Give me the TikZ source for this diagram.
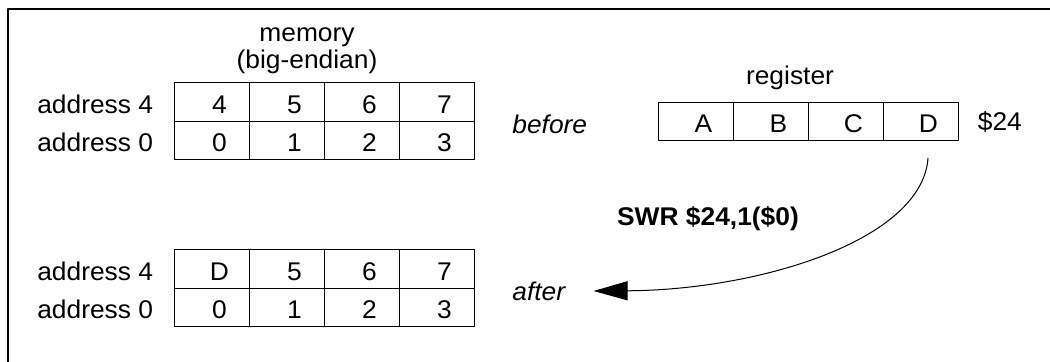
\documentclass[tikz,border=0pt]{standalone}
\usepackage{fontspec}
\setmainfont{Liberation Sans}[FakeStretch=1.03]
\usetikzlibrary{arrows.meta,positioning}

\begin{document}
\begin{tikzpicture}[line cap=round,line join=round,x=0.5pt,y=-0.5pt,
		font=\fontsize{12.8pt}{15pt}\selectfont,
		cell/.style={draw,line width=0.5pt,minimum width=37.5pt,minimum height=19.25pt,inner sep=0pt,
			text height=11pt,text depth=0pt,execute at begin node={\hspace*{8pt}}},
		lbl/.style={inner sep=0pt},
		addr/.style={inner sep=0pt,text height=11pt,text depth=0pt},
		swr/.style={-{Triangle[length=17pt,width=9.5pt]},line width=0.5pt}]
	\useasboundingbox (0,0) rectangle (1050,362);
	\draw [line width=0.8pt] (8,362) -- (8,9) -- (1050,9);
	%% memory before
	\foreach \v [count=\i] in {4,5,6,7}
		\node[cell] (ba\i) at (136.5+75*\i,102.25) {\v};
	\foreach \v [count=\i] in {0,1,2,3}
		\node[cell] (bb\i) at (136.5+75*\i,140.75) {\v};
	\node[lbl,align=center] (memlbl) at (307,51) {memory\\[-1.5pt](big-endian)};
	\node[addr,left=10pt of ba1] (ba0) {address 4};
	\node[addr,left=10pt of bb1] (bb0) {address 0};
	%% memory after
	\foreach \v [count=\i] in {D,5,6,7}
		\node[cell] (aa\i) at (136.5+75*\i,269.25) {\v};
	\foreach \v [count=\i] in {0,1,2,3}
		\node[cell] (ab\i) at (136.5+75*\i,307.75) {\v};
	\node[addr,left=10pt of aa1] (aa0) {address 4};
	\node[addr,left=10pt of ab1] (ab0) {address 0};
	%% register
	\foreach \v [count=\i] in {A,B,C,D}
		\node[cell] (reg\i) at (620.5+75*\i,121.5) {\v};
	\node[lbl] (reglbl) at (790,78) {register};
	\node[lbl,right=9.5pt of reg4] (regnum) {\$24};
	\node[lbl,font=\fontsize{12.8pt}{15pt}\selectfont\itshape,anchor=base west] (beflbl) at (512,134) {before};
	\node[lbl,font=\fontsize{12.8pt}{15pt}\selectfont\itshape,anchor=base west] (aftlbl) at (512,301) {after};
	%% store
	\node[lbl,font=\fontsize{12.8pt}{15pt}\selectfont\bfseries] (swrlbl) at (708,219) {SWR \$24,1(\$0)};
	\coordinate (swrfrom) at ([shift={(7.5,17)}]reg4.south);
	\coordinate (swrto) at ([shift={(28,-10)}]aftlbl.base east);
	\draw [swr] (swrfrom) .. controls (922,240) and (760,290) .. (swrto);
\end{tikzpicture}
\end{document}
